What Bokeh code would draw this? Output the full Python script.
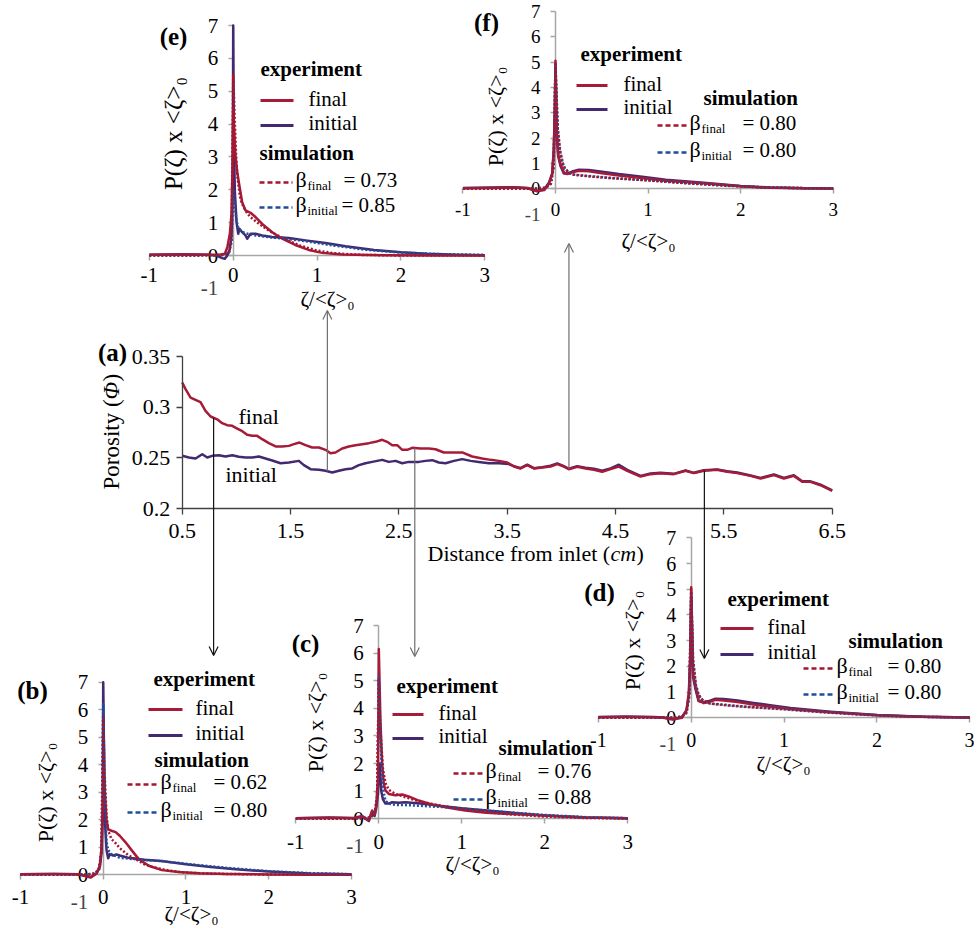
import numpy as np
from bokeh.plotting import figure
from bokeh.models import (Range1d, LinearAxis, FixedTicker, Label, Arrow, OpenHead,
                          CustomJSTickFormatter)
from bokeh.embed import file_html
from bokeh.resources import INLINE

# ---------------------------------------------------------------- data
a_x_ticks = [0.5, 1.5, 2.5, 3.5, 4.5, 5.5, 6.5]
a_y_ticks = [0.2, 0.25, 0.3, 0.35]
pdf_x_ticks = [-1, 0, 1, 2, 3]
pdf_y_ticks = [0, 1, 2, 3, 4, 5, 6, 7]

# (a) porosity vs distance from inlet (cm)
porosity_final = [(0.5,0.3243),(0.531,0.3178),(0.577,0.3095),(0.623,0.3072),(0.669,0.305),(0.715,0.2964),
    (0.762,0.2908),(0.823,0.288),(0.869,0.2842),(0.915,0.2822),(0.962,0.2816),(1.008,0.2789),(1.054,0.2763),
    (1.1,0.2727),(1.146,0.2717),(1.192,0.2717),(1.238,0.2684),(1.3,0.2645),(1.362,0.2612),(1.423,0.2612),
    (1.485,0.2618),(1.531,0.2635),(1.583,0.2651),(1.638,0.2625),(1.7,0.2602),(1.762,0.2602),(1.823,0.2579),
    (1.869,0.2546),(1.915,0.2553),(1.977,0.2592),(2.038,0.2612),(2.1,0.2625),(2.162,0.2635),(2.223,0.2645),
    (2.285,0.2658),(2.346,0.2678),(2.392,0.2658),(2.438,0.2625),(2.485,0.2625),(2.531,0.2579),(2.577,0.2579),
    (2.623,0.2599),(2.7,0.2592),(2.777,0.2592),(2.838,0.2585),(2.915,0.2553),(2.992,0.2553),(3.085,0.2553),
    (3.177,0.2513),(3.269,0.2493),(3.346,0.248),(3.423,0.247),(3.5,0.2454),(3.562,0.2414),(3.623,0.2395),
    (3.685,0.2428),(3.746,0.2395),(3.823,0.2405),(3.9,0.2414),(3.962,0.2438),(4.023,0.2414),(4.069,0.2388),
    (4.146,0.2411),(4.223,0.2395),(4.3,0.2382),(4.377,0.2362),(4.454,0.2388),(4.531,0.2414),(4.608,0.2372),
    (4.731,0.2316),(4.823,0.2339),(4.915,0.2349),(5.038,0.2339),(5.146,0.2372),(5.223,0.2349),(5.315,0.2372),
    (5.438,0.2382),(5.531,0.2362),(5.623,0.2349),(5.746,0.2322),(5.838,0.2296),(5.962,0.2329),(6.054,0.2296),
    (6.146,0.2322),(6.223,0.2263),(6.3,0.2263),(6.392,0.223),(6.5,0.2174)]
porosity_initial = [(0.5,0.252),(0.562,0.2503),(0.623,0.2493),(0.685,0.2536),(0.731,0.2503),(0.777,0.252),
    (0.838,0.2526),(0.9,0.2513),(0.962,0.2526),(1.023,0.251),(1.085,0.2503),(1.146,0.2503),(1.208,0.2513),
    (1.269,0.2493),(1.331,0.2474),(1.408,0.2447),(1.485,0.2454),(1.577,0.247),(1.623,0.2428),(1.685,0.2388),
    (1.762,0.2382),(1.823,0.2372),(1.885,0.2355),(1.946,0.2372),(2.008,0.2388),(2.069,0.2395),(2.131,0.2428),
    (2.192,0.2447),(2.254,0.246),(2.346,0.248),(2.408,0.246),(2.469,0.247),(2.531,0.2447),(2.592,0.246),
    (2.685,0.246),(2.746,0.247),(2.808,0.2477),(2.869,0.2454),(2.931,0.2447),(3.008,0.247),(3.085,0.2487),
    (3.162,0.247),(3.238,0.246),(3.331,0.2447),(3.423,0.2447),(3.515,0.2438),(3.562,0.2418),(3.623,0.2398),
    (3.685,0.2432),(3.746,0.2398),(3.823,0.2408),(3.9,0.2422),(3.962,0.2445),(4.023,0.2418),(4.069,0.2392),
    (4.146,0.2418),(4.223,0.2402),(4.3,0.2392),(4.377,0.2372),(4.454,0.2395),(4.531,0.2432),(4.608,0.2382),
    (4.731,0.2322),(4.823,0.2345),(4.915,0.2352),(5.038,0.2342),(5.146,0.2375),(5.223,0.2352),(5.315,0.2378),
    (5.438,0.2385),(5.531,0.2368),(5.623,0.2355),(5.746,0.2326),(5.838,0.2302),(5.962,0.2336),(6.054,0.2302),
    (6.146,0.2328),(6.223,0.2268),(6.3,0.2268),(6.392,0.2235),(6.5,0.2178)]

# (b)-(f): P(zeta) x <zeta>0 vs zeta/<zeta>0  -- (x, y) pairs
b_exp_final = [(-1,0.02),(-0.6,0.03),(-0.3,0.02),(-0.15,-0.1),(-0.08,0.05),(-0.04,0.35),(-0.02,1.0),(-0.005,2.5),
    (0.0,4.0),(0.02,3.0),(0.04,2.0),(0.06,1.65),(0.1,1.6),(0.15,1.55),(0.2,1.42),(0.27,1.18),(0.35,0.87),
    (0.43,0.57),(0.55,0.33),(0.71,0.17),(0.91,0.1),(1.16,0.06),(1.5,0.03),(2.0,0.01),(2.5,0.0),(3.0,0.0)]
b_exp_initial = [(-1,0.02),(-0.6,0.03),(-0.3,0.02),(-0.15,-0.08),(-0.08,0.05),(-0.04,0.3),(-0.02,0.8),(-0.005,2.5),
    (0.0,7.0),(0.02,2.0),(0.04,0.9),(0.06,0.6),(0.08,0.75),(0.12,0.7),(0.16,0.74),(0.2,0.7),(0.3,0.62),
    (0.5,0.55),(0.7,0.5),(1.0,0.38),(1.3,0.28),(1.6,0.2),(2.0,0.12),(2.5,0.05),(3.0,0.02)]
b_sim_final = [(-1,0.0),(-0.5,0.0),(-0.2,0.01),(-0.1,0.05),(-0.05,0.2),(-0.02,0.9),(0.0,5.8),(0.02,3.5),(0.04,2.2),
    (0.06,1.6),(0.1,1.3),(0.15,1.15),(0.2,0.97),(0.3,0.72),(0.4,0.55),(0.5,0.38),(0.6,0.28),(0.8,0.15),
    (1.0,0.08),(1.3,0.04),(2.0,0.01),(3.0,0.0)]
b_sim_initial = [(-1,0.0),(-0.5,0.0),(-0.2,0.01),(-0.1,0.05),(-0.05,0.2),(-0.02,0.9),(0.0,6.2),(0.02,2.5),(0.04,1.2),
    (0.06,0.9),(0.1,0.75),(0.2,0.62),(0.4,0.56),(0.7,0.5),(1.0,0.4),(1.5,0.25),(2.0,0.13),(2.5,0.06),(3.0,0.02)]

c_exp_final = [(-1,0.02),(-0.6,0.05),(-0.3,0.03),(-0.2,0.1),(-0.12,-0.05),(-0.08,0.3),(-0.05,0.15),(-0.03,0.5),
    (-0.01,1.5),(0.0,6.15),(0.02,3.5),(0.04,2.0),(0.06,1.27),(0.08,1.03),(0.12,0.9),(0.2,0.85),(0.28,0.88),
    (0.36,0.81),(0.48,0.66),(0.64,0.52),(0.84,0.4),(1.04,0.3),(1.29,0.22),(1.6,0.17),(2.0,0.12),(2.5,0.05),(3.0,0.02)]
c_exp_initial = [(-1,0.02),(-0.6,0.04),(-0.3,0.02),(-0.2,0.08),(-0.12,-0.08),(-0.08,0.25),(-0.05,0.1),(-0.03,0.4),
    (-0.01,0.9),(0.0,1.6),(0.01,2.0),(0.03,1.0),(0.05,0.7),(0.08,0.55),(0.12,0.55),(0.16,0.6),(0.24,0.58),
    (0.32,0.6),(0.5,0.55),(0.8,0.45),(1.0,0.38),(1.3,0.3),(1.6,0.22),(2.0,0.12),(2.5,0.05),(3.0,0.02)]
c_sim_final = [(-1,0.0),(-0.5,0.0),(-0.2,0.01),(-0.1,0.05),(-0.05,0.2),(-0.02,0.8),(0.0,5.0),(0.02,3.2),(0.05,1.8),
    (0.08,1.3),(0.12,1.05),(0.2,0.9),(0.3,0.8),(0.5,0.62),(0.8,0.45),(1.0,0.36),(1.5,0.18),(2.0,0.08),
    (2.5,0.03),(3.0,0.01)]
c_sim_initial = [(-1,0.0),(-0.5,0.0),(-0.2,0.01),(-0.1,0.05),(-0.05,0.2),(-0.02,0.8),(0.0,5.1),(0.02,2.8),(0.05,1.1),
    (0.08,0.65),(0.12,0.55),(0.2,0.5),(0.3,0.5),(0.5,0.47),(0.8,0.42),(1.0,0.37),(1.5,0.25),(2.0,0.14),
    (2.5,0.06),(3.0,0.02)]

d_exp_final = [(-1,0.02),(-0.7,0.03),(-0.4,0.02),(-0.3,0.0),(-0.2,-0.07),(-0.1,0.0),(-0.05,0.3),(-0.025,1.0),
    (-0.01,2.5),(0.0,5.08),(0.02,1.7),(0.047,1.19),(0.08,0.67),(0.136,0.57),(0.19,0.61),(0.26,0.7),(0.35,0.67),
    (0.5,0.61),(0.67,0.52),(0.85,0.44),(1.07,0.34),(1.5,0.22),(2.0,0.1),(2.5,0.04),(3.0,0.01)]
d_exp_initial = [(-1,0.03),(-0.7,0.05),(-0.4,0.03),(-0.3,0.01),(-0.2,-0.05),(-0.1,0.02),(-0.05,0.3),(-0.025,0.9),
    (-0.01,2.2),(0.0,4.7),(0.02,1.6),(0.047,1.1),(0.08,0.65),(0.136,0.6),(0.19,0.65),(0.26,0.74),(0.35,0.73),
    (0.5,0.67),(0.67,0.58),(0.85,0.49),(1.07,0.38),(1.5,0.24),(2.0,0.11),(2.5,0.04),(3.0,0.01)]
d_sim_final = [(-1,0.0),(-0.5,0.0),(-0.2,0.01),(-0.1,0.05),(-0.05,0.2),(-0.02,0.9),(0.0,5.0),(0.02,2.3),(0.05,1.3),
    (0.08,0.9),(0.12,0.7),(0.2,0.55),(0.4,0.48),(0.6,0.42),(1.0,0.33),(1.4,0.22),(1.8,0.13),(2.2,0.06),
    (2.6,0.03),(3.0,0.01)]
d_sim_initial = [(-1,0.0),(-0.5,0.0),(-0.2,0.01),(-0.1,0.05),(-0.05,0.2),(-0.02,0.85),(0.0,4.9),(0.02,2.2),(0.05,1.25),
    (0.08,0.88),(0.12,0.7),(0.2,0.56),(0.4,0.49),(0.6,0.43),(1.0,0.34),(1.4,0.23),(1.8,0.14),(2.2,0.07),
    (2.6,0.03),(3.0,0.01)]

e_exp_final = [(-1,0.02),(-0.6,0.03),(-0.3,0.02),(-0.15,0.03),(-0.1,0.05),(-0.07,0.25),(-0.04,0.66),(-0.02,1.27),
    (-0.008,2.7),(0.0,4.5),(0.01,3.9),(0.025,3.1),(0.045,2.6),(0.067,2.23),(0.107,1.62),(0.147,1.37),(0.207,1.3),
    (0.266,1.17),(0.346,0.96),(0.465,0.71),(0.584,0.51),(0.74,0.32),(0.9,0.17),(1.06,0.08),(1.3,0.03),
    (1.8,0.01),(2.4,0.0),(3.0,0.0)]
e_exp_initial = [(-1,0.02),(-0.6,0.04),(-0.3,0.02),(-0.2,0.0),(-0.13,-0.08),(-0.1,-0.1),(-0.07,0.0),(-0.04,0.2),
    (-0.02,0.6),(-0.005,2.0),(0.0,7.0),(0.008,3.5),(0.02,1.93),(0.04,1.01),(0.06,0.66),(0.075,0.81),(0.107,0.71),
    (0.147,0.61),(0.167,0.51),(0.207,0.66),(0.266,0.66),(0.346,0.61),(0.465,0.56),(0.664,0.53),(0.862,0.46),
    (1.1,0.38),(1.34,0.28),(1.68,0.17),(2.0,0.1),(2.31,0.05),(2.67,0.02),(3.0,0.01)]
e_sim_final = [(-1,0.0),(-0.5,0.0),(-0.2,0.01),(-0.1,0.03),(-0.05,0.1),(-0.02,0.5),(0.0,5.5),(0.01,4.8),(0.02,4.0),
    (0.035,3.0),(0.05,2.4),(0.08,1.8),(0.1,1.6),(0.15,1.35),(0.2,1.18),(0.3,0.98),(0.4,0.8),(0.5,0.65),
    (0.6,0.52),(0.8,0.3),(1.0,0.15),(1.2,0.07),(1.5,0.02),(2.0,0.0),(3.0,0.0)]
e_sim_initial = [(-1,0.0),(-0.5,0.0),(-0.2,0.01),(-0.1,0.02),(-0.05,0.1),(-0.02,0.4),(0.0,2.0),(0.01,1.9),(0.02,1.5),
    (0.04,1.05),(0.06,0.85),(0.1,0.72),(0.2,0.64),(0.3,0.6),(0.5,0.54),(0.8,0.46),(1.2,0.3),(1.6,0.17),
    (2.0,0.09),(2.5,0.04),(3.0,0.02)]

f_exp_final = [(-1,0.02),(-0.7,0.03),(-0.45,0.05),(-0.3,0.02),(-0.2,-0.1),(-0.12,-0.05),(-0.07,0.2),(-0.036,0.58),
    (-0.018,1.6),(-0.007,3.3),(0.0,5.06),(0.014,2.27),(0.029,1.36),(0.054,0.97),(0.09,0.65),(0.126,0.58),
    (0.18,0.65),(0.252,0.71),(0.36,0.69),(0.504,0.61),(0.684,0.52),(0.936,0.43),(1.19,0.32),(1.6,0.22),
    (2.0,0.1),(2.32,0.04),(2.7,0.02),(3.0,0.01)]
f_exp_initial = [(-1,0.03),(-0.7,0.05),(-0.45,0.06),(-0.3,0.03),(-0.2,-0.08),(-0.12,-0.02),(-0.07,0.25),(-0.036,0.6),
    (-0.018,1.5),(-0.007,3.0),(0.0,4.8),(0.014,2.1),(0.029,1.3),(0.054,0.9),(0.09,0.6),(0.126,0.6),
    (0.18,0.68),(0.252,0.75),(0.36,0.74),(0.504,0.67),(0.684,0.58),(0.936,0.48),(1.19,0.36),(1.6,0.24),
    (2.0,0.11),(2.32,0.05),(2.7,0.02),(3.0,0.01)]
f_sim_final = [(-1,0.0),(-0.5,0.0),(-0.2,0.01),(-0.1,0.05),(-0.05,0.2),(-0.02,0.9),(0.0,5.0),(0.01,3.8),(0.025,2.4),
    (0.05,1.5),(0.08,1.0),(0.1,0.82),(0.15,0.62),(0.2,0.55),(0.4,0.48),(0.6,0.42),(1.0,0.33),(1.4,0.22),
    (1.8,0.13),(2.2,0.06),(2.6,0.03),(3.0,0.01)]
f_sim_initial = [(-1,0.0),(-0.5,0.0),(-0.2,0.01),(-0.1,0.05),(-0.05,0.2),(-0.02,0.85),(0.0,4.9),(0.01,3.7),(0.025,2.3),
    (0.05,1.45),(0.08,0.98),(0.1,0.8),(0.15,0.62),(0.2,0.56),(0.4,0.49),(0.6,0.43),(1.0,0.34),(1.4,0.23),
    (1.8,0.14),(2.2,0.07),(2.6,0.03),(3.0,0.01)]

panel_names = ["b", "c", "d", "e", "f"]
beta_final = [0.62, 0.76, 0.80, 0.73, 0.80]
beta_initial = [0.80, 0.88, 0.80, 0.85, 0.80]
# locations in (a) that each PDF panel refers to (cm) and the curve the connector starts on
arrow_x_cm = [0.79, 2.647, 5.32, 1.84, 4.07]
arrow_from = ["final", "final", "final", "initial", "initial"]

series = {
    "b": (b_exp_final, b_exp_initial, b_sim_final, b_sim_initial),
    "c": (c_exp_final, c_exp_initial, c_sim_final, c_sim_initial),
    "d": (d_exp_final, d_exp_initial, d_sim_final, d_sim_initial),
    "e": (e_exp_final, e_exp_initial, e_sim_final, e_sim_initial),
    "f": (f_exp_final, f_exp_initial, f_sim_final, f_sim_initial),
}

# ---------------------------------------------------------------- layout / style
W, H = 974, 929
FONT = "Liberation Serif"
RED = "#A61B38"
PURPLE = "#43296F"
SIMRED = "#A3172F"
SIMBLUE = "#1F4E9A"
AXGRAY = "#A6A6A6"

# page placement of each panel: data value -> page pixel (x0d, X0, x1d, X1, y0d, Y0, y1d, Y1)
BOX = {
    "a": (0.5, 181.7, 6.5, 831.7, 0.2, 508.0, 0.35, 356.0),
    "b": (0, 102.7, 3, 351.0, 0, 874.3, 7, 681.7),
    "c": (0, 378.3, 3, 627.3, 0, 818.3, 7, 625.0),
    "d": (0, 690.7, 3, 969.3, 0, 717.3, 7, 537.3),
    "e": (0, 232.7, 3, 484.3, 0, 255.0, 7, 25.0),
    "f": (0, 555.0, 3, 832.7, 0, 188.3, 7, 11.0),
}
LEG = {
    "b": dict(letter=(32, 690), exp=(153, 678), key=(148, 182), kf=709, ki=735, lab=195,
              sim=(154, 759), skey=(127, 157), sf=784, si=812, bx=160, eqf=213, eqi=213,
              yt=(45, 792, 22), xt=(191, 913), tick=21, xst=10, tip=655),
    "c": dict(letter=(305, 643), exp=(396, 685), key=(392, 423), kf=714, ki=738, lab=438,
              sim=(498, 747), skey=(453, 483), sf=773, si=799, bx=485, eqf=537, eqi=537,
              yt=(315, 722, 22), xt=(472, 863), tick=21, xst=11, tip=656),
    "d": dict(letter=(599, 592), exp=(727, 598), key=(720, 753), kf=628, ki=654, lab=767,
              sim=(848, 640), skey=(803, 833), sf=668, si=694, bx=836, eqf=887, eqi=887,
              yt=(632, 640, 22), xt=(783, 763), tick=20, xst=10, tip=658),
    "e": dict(letter=(173, 36), exp=(260, 68), key=(260, 293), kf=100, ki=125, lab=308,
              sim=(259, 152), skey=(259, 292), sf=182, si=207, bx=295, eqf=343, eqi=341,
              yt=(173, 133, 25), xt=(327, 298), tick=21, xst=7, tip=310),
    "f": dict(letter=(486, 22), exp=(580, 53), key=(576, 607), kf=85, ki=109, lab=623,
              sim=(703, 97), skey=(657, 687), sf=125, si=152, bx=689, eqf=742, eqi=742,
              yt=(495, 116, 22), xt=(648, 240), tick=19, xst=9, tip=243),
}

p = figure(width=W, height=H, x_range=Range1d(0, W), y_range=Range1d(H, 0),
           output_backend="svg", toolbar_location=None, min_border=0,
           x_axis_type=None, y_axis_type=None, outline_line_color=None)
p.background_fill_color = "white"
p.border_fill_color = "white"

ex, ey = {}, {}
for n, (x0d, X0, x1d, X1, y0d, Y0, y1d, Y1) in BOX.items():
    sx = (x1d - x0d) / (X1 - X0)
    ex[n] = Range1d(x0d - X0 * sx, x0d + (W - X0) * sx)
    sy = (y1d - y0d) / (Y1 - Y0)
    ey[n] = Range1d(y0d + (H - Y0) * sy, y0d - Y0 * sy)
p.extra_x_ranges = ex
p.extra_y_ranges = ey


def page_to_data_y(n, Y):
    x0d, X0, x1d, X1, y0d, Y0, y1d, Y1 = BOX[n]
    return y0d + (Y - Y0) * (y1d - y0d) / (Y1 - Y0)


def txt(x, y, s, size, style="normal", align="left", baseline="middle", angle=0.0):
    p.add_layout(Label(x=x, y=y, text=s, text_font=FONT, text_font_size=f"{size}px",
                       text_font_style=style, text_align=align, text_baseline=baseline,
                       angle=angle, text_color="black"))


def key(x0, x1, y, color, dash, width):
    p.add_layout(Arrow(start=None, end=None, x_start=x0, y_start=y, x_end=x1, y_end=y,
                       line_color=color, line_width=width, line_dash=dash))


def curve(n, pts, color, dash="solid", width=2.5):
    p.line([q[0] for q in pts], [q[1] for q in pts], x_range_name=n, y_range_name=n,
           line_color=color, line_width=width, line_dash=dash, line_join="round")


fmt = CustomJSTickFormatter(code="return tick.toString()")


def add_axes(n, xticks, yticks, xloc, yloc, color, lw, size, xst, yst, tout, level):
    common = dict(x_range_name=n, y_range_name=n, formatter=fmt, axis_line_color=color,
                  axis_line_width=lw, major_tick_line_color=color, major_tick_line_width=lw,
                  major_tick_out=tout, major_tick_in=0, minor_tick_out=0, minor_tick_in=0,
                  major_label_text_font=FONT, major_label_text_font_size=f"{size}px",
                  major_label_text_color="black", level=level)
    xa = LinearAxis(fixed_location=xloc, bounds=(xticks[0], xticks[-1]),
                    ticker=FixedTicker(ticks=xticks), major_label_standoff=xst, **common)
    ya = LinearAxis(fixed_location=yloc, bounds=(yticks[0], yticks[-1]),
                    ticker=FixedTicker(ticks=yticks), major_label_standoff=yst, **common)
    p.add_layout(xa, "below")
    p.add_layout(ya, "left")


# ---------------------------------------------------------------- panel (a)
curve("a", porosity_initial, PURPLE, width=2.5)
curve("a", porosity_final, RED, width=2.5)
add_axes("a", a_x_ticks, a_y_ticks, a_y_ticks[0], a_x_ticks[0], "#404040", 1.3, 22, 9, 6, 6, "guide")
txt(112, 352, "(a)", 25, "bold", "center")
txt(238, 416, "final", 22)
txt(225, 474, "initial", 22)
# y title "Porosity (Φ)" with italic Φ
txt(111, 489, "Porosity (", 23, angle=np.pi / 2)
txt(111, 399, "Φ", 23, "italic", angle=np.pi / 2)
txt(111, 381, ")", 23, angle=np.pi / 2)
# x title "Distance from inlet (cm)" with italic cm
txt(427, 553, "Distance from inlet (", 22)
txt(610, 553, "cm", 22, "italic")
txt(636, 553, ")", 22)

# ---------------------------------------------------------------- connectors
curves_a = {"final": porosity_final, "initial": porosity_initial}
for n, xcm, src in zip(panel_names, arrow_x_cm, arrow_from):
    pts = curves_a[src]
    y0 = float(np.interp(xcm, [q[0] for q in pts], [q[1] for q in pts]))
    y1 = page_to_data_y("a", LEG[n]["tip"])
    col = "#111111" if n in ("b", "d") else "#6E6E6E"
    p.add_layout(Arrow(x_start=xcm, y_start=y0, x_end=xcm, y_end=y1, x_range_name="a",
                       y_range_name="a", line_color=col, line_width=1.2,
                       end=OpenHead(size=9, line_color=col, line_width=1.2)))

# ---------------------------------------------------------------- PDF panels (b)-(f)
for n, bf, bi in zip(panel_names, beta_final, beta_initial):
    L = LEG[n]
    exp_f, exp_i, sim_f, sim_i = series[n]
    add_axes(n, pdf_x_ticks, pdf_y_ticks, 0, 0, AXGRAY, 1.5, L["tick"], L["xst"], 10, 5, "underlay")
    p.add_layout(Label(x=0, y=-1, x_range_name=n, y_range_name=n, x_offset=-15, text="-1",
                       text_font=FONT, text_font_size=f'{L["tick"]}px', text_align="right",
                       text_baseline="middle"))
    curve(n, exp_i, PURPLE, width=2.5)
    curve(n, exp_f, RED, width=2.5)
    curve(n, sim_i, SIMBLUE, dash="2 2", width=2.5)
    curve(n, sim_f, SIMRED, dash="2 2", width=2.5)

    txt(L["letter"][0], L["letter"][1], f"({n})", 25, "bold", "center")
    txt(L["exp"][0], L["exp"][1], "experiment", 21, "bold")
    key(L["key"][0], L["key"][1], L["kf"], RED, "solid", 3)
    key(L["key"][0], L["key"][1], L["ki"], PURPLE, "solid", 3)
    txt(L["lab"], L["kf"] - 2, "final", 21)
    txt(L["lab"], L["ki"] - 3, "initial", 21)
    txt(L["sim"][0], L["sim"][1], "simulation", 21, "bold")
    key(L["skey"][0], L["skey"][1], L["sf"], SIMRED, "5 3", 2.5)
    key(L["skey"][0], L["skey"][1], L["si"], SIMBLUE, "5 3", 2.5)
    for yk, sub, eqx, bval in ((L["sf"], "final", L["eqf"], bf), (L["si"], "initial", L["eqi"], bi)):
        txt(L["bx"], yk - 3, "β", 22)
        txt(L["bx"] + 12, yk + 3, sub, 13)
        txt(eqx, yk - 3, f"= {bval:.2f}", 21)
    txt(L["yt"][0], L["yt"][1], "P(ζ) x <ζ>₀", L["yt"][2], align="center", angle=np.pi / 2)
    txt(L["xt"][0], L["xt"][1], "ζ/<ζ>₀", 21, align="center")

open("out.html", "w").write(file_html(p, INLINE))
